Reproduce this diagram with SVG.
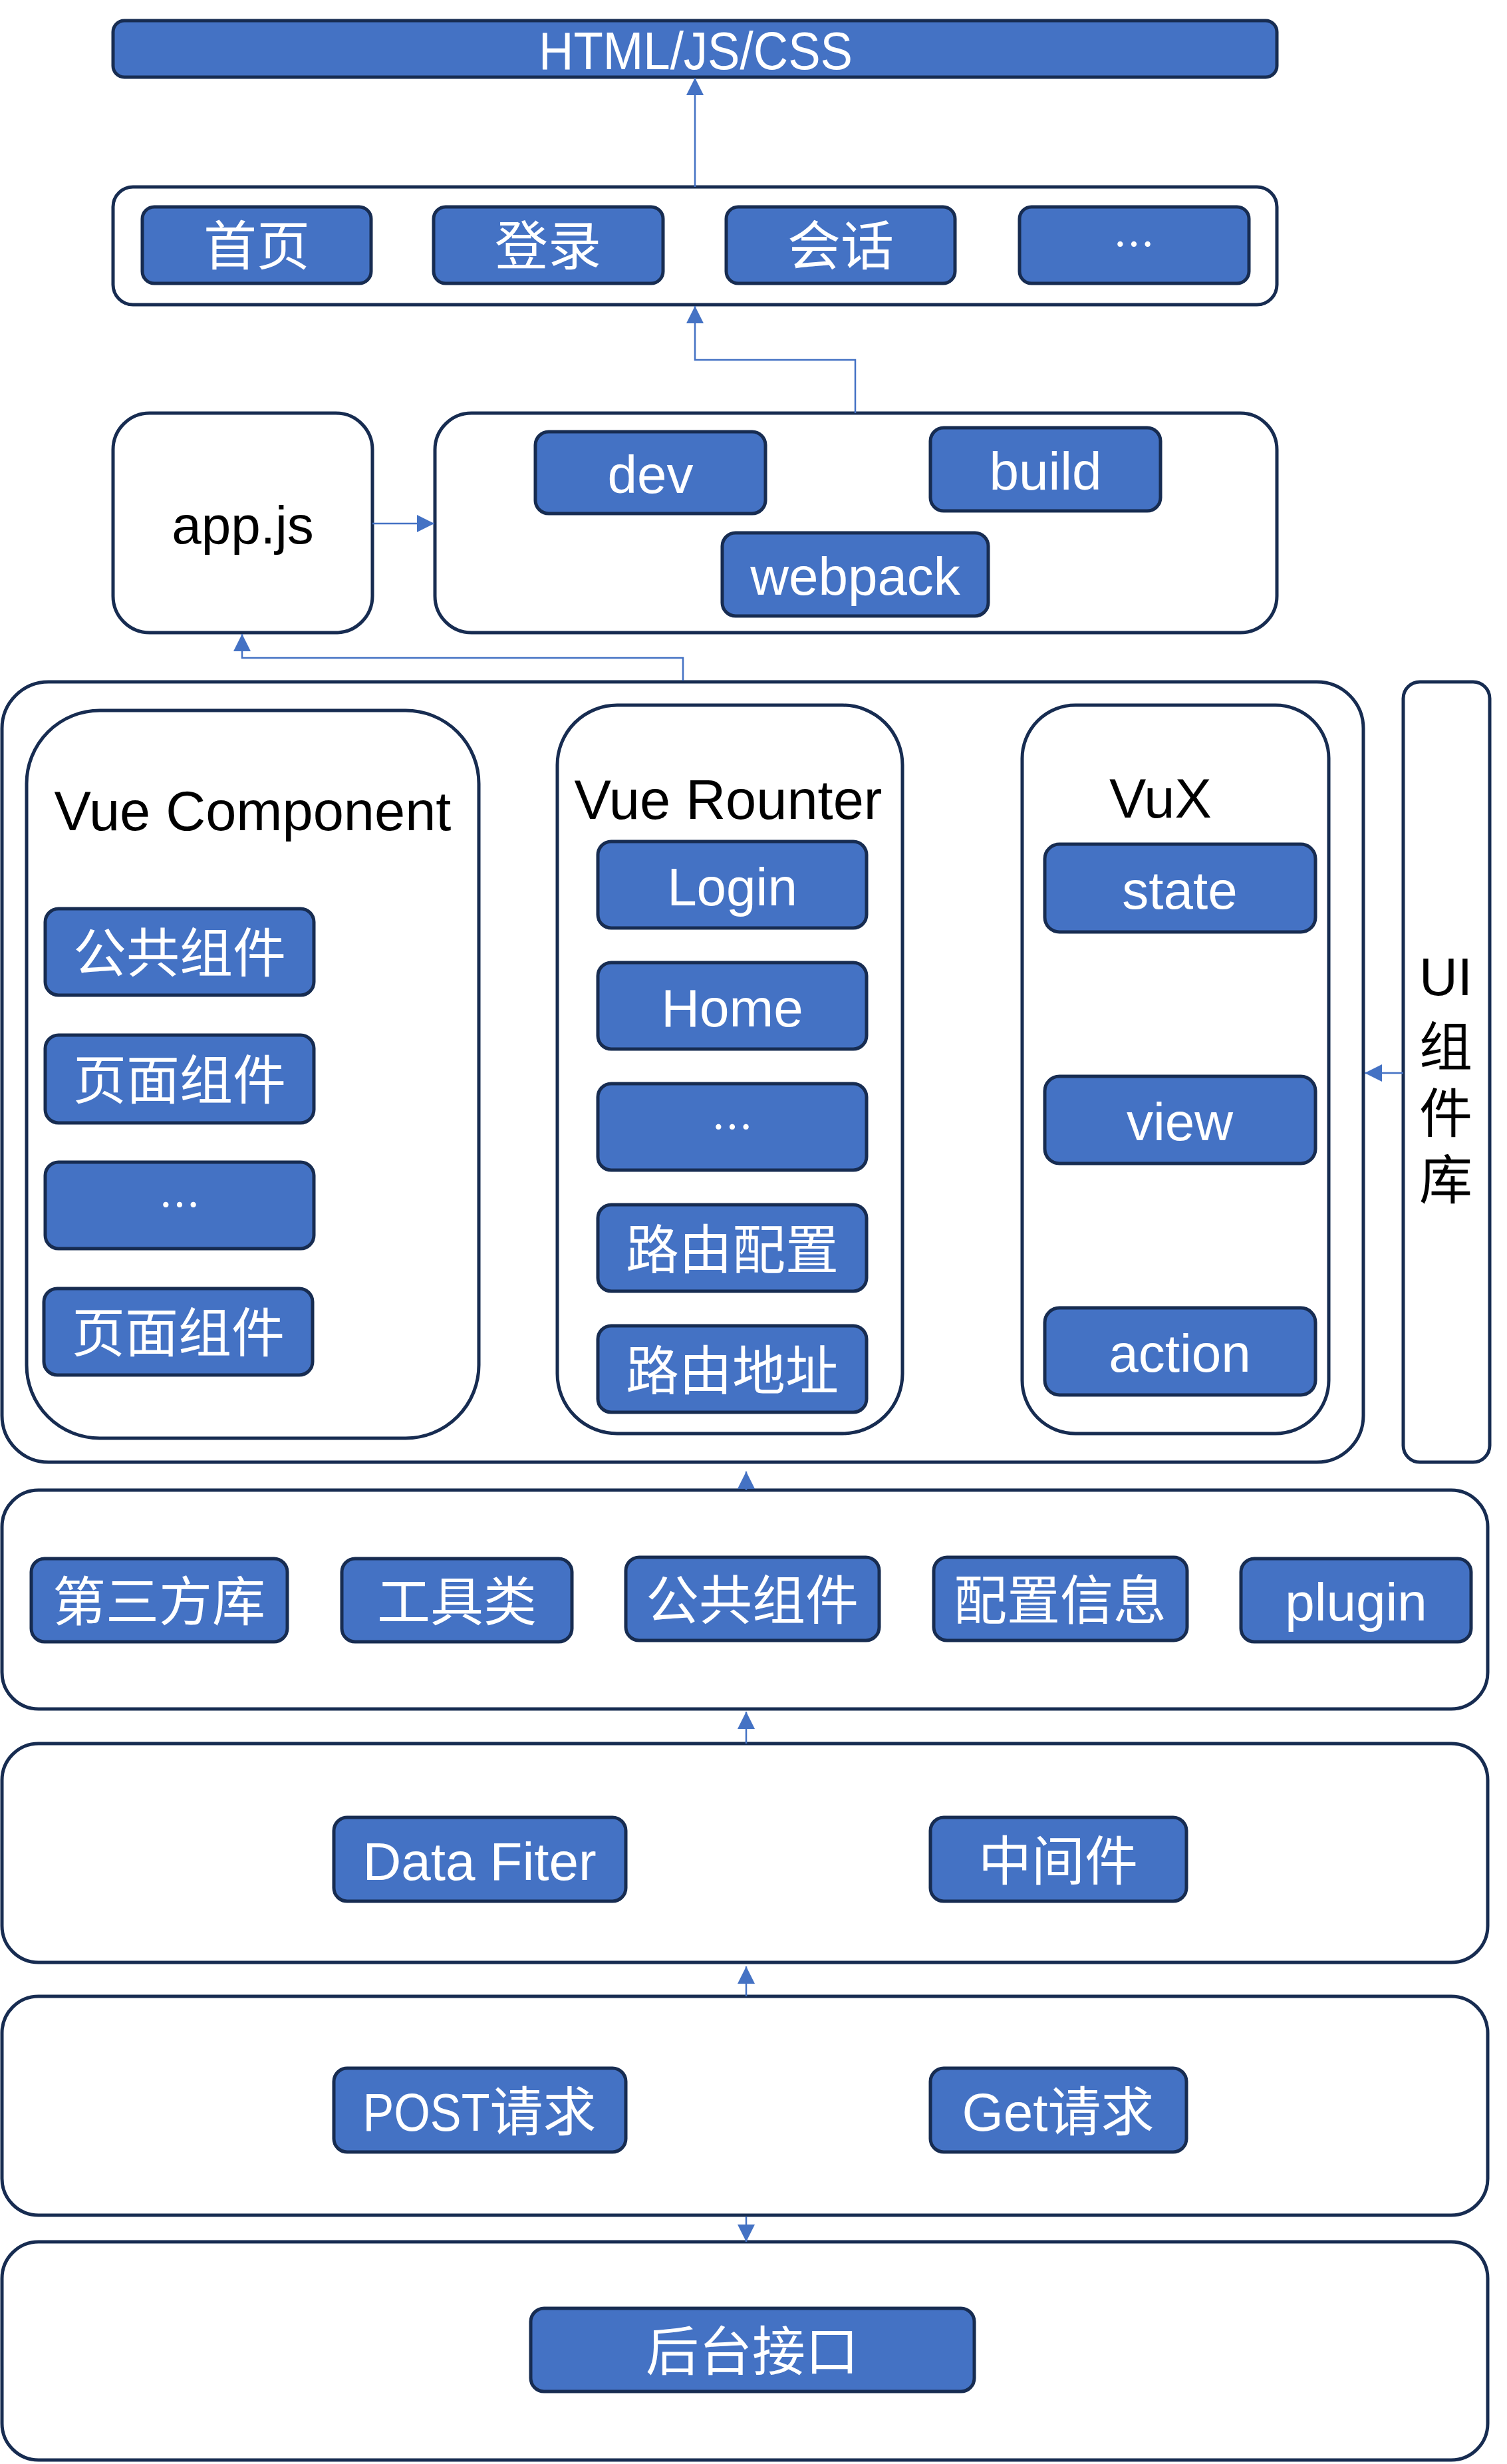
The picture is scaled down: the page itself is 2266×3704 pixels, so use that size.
<svg xmlns="http://www.w3.org/2000/svg" width="2266" height="3704" viewBox="0 0 2266 3704">
<style>
.bg{fill:#ffffff}
.box{fill:#4472C4;stroke:#172C51;stroke-width:5}
.cont{fill:#ffffff;stroke:#172C51;stroke-width:5}
.t{font-family:"Liberation Sans","Noto Sans CJK SC",sans-serif;font-size:80px;fill:#ffffff;text-anchor:middle}
.k{fill:#000000}
.title{font-size:83px}
.dots{font-family:"Noto Sans CJK SC","Liberation Sans",sans-serif;font-size:62px}
.conn{fill:none;stroke:#4472C4;stroke-width:2.5}
</style>
<defs>
<marker id="arr" viewBox="0 0 26 26" refX="26" refY="13" markerWidth="26" markerHeight="26" orient="auto" markerUnits="userSpaceOnUse">
<path d="M0,0 L26,13 L0,26 z" fill="#4472C4"/>
</marker>
</defs>
<rect class="bg" x="0" y="0" width="2266" height="3704"/>

<g id="html">
<rect class="box" x="170" y="31" width="1750" height="85" rx="17"/>
<text class="t" x="1046" y="104" textLength="472" lengthAdjust="spacingAndGlyphs">HTML/JS/CSS</text>
</g>

<g id="pages">
<rect class="cont" x="170" y="281" width="1750" height="177" rx="30"/>
<g id="page-home"><rect class="box" x="214" y="311" width="344" height="115" rx="18"/><text class="t" x="386" y="398">首页</text></g>
<g id="page-login"><rect class="box" x="652" y="311" width="345" height="115" rx="18"/><text class="t" x="824" y="398">登录</text></g>
<g id="page-session"><rect class="box" x="1092" y="311" width="344" height="115" rx="18"/><text class="t" x="1264" y="398">会话</text></g>
<g id="page-more"><rect class="box" x="1533" y="311" width="345" height="115" rx="18"/><text class="t dots" x="1705" y="391">…</text></g>
</g>

<g id="appjs">
<rect class="cont" x="170" y="621" width="390" height="330" rx="55"/>
<text class="t k" x="365" y="817">app.js</text>
</g>

<g id="webpack-group">
<rect class="cont" x="654" y="621" width="1266" height="330" rx="55"/>
<g id="dev"><rect class="box" x="805" y="649" width="346" height="123" rx="20"/><text class="t" x="978" y="741">dev</text></g>
<g id="build"><rect class="box" x="1399" y="643" width="346" height="125" rx="20"/><text class="t" x="1572" y="736">build</text></g>
<g id="webpack"><rect class="box" x="1086" y="801" width="400" height="125" rx="20"/><text class="t" x="1286" y="894">webpack</text></g>
</g>

<g id="vue-layer">
<rect class="cont" x="3" y="1025" width="2047" height="1173" rx="70"/>
</g>

<g id="vue-component">
<rect class="cont" x="40" y="1068" width="680" height="1094" rx="110"/>
<text class="t k title" x="380" y="1248">Vue Component</text>
<g id="vc-common"><rect class="box" x="68" y="1366" width="404" height="130" rx="20"/><text class="t" x="270" y="1461">公共组件</text></g>
<g id="vc-page1"><rect class="box" x="68" y="1556" width="404" height="132" rx="20"/><text class="t" x="270" y="1652">页面组件</text></g>
<g id="vc-more"><rect class="box" x="68" y="1747" width="404" height="130" rx="20"/><text class="t dots" x="270" y="1835">…</text></g>
<g id="vc-page2"><rect class="box" x="66" y="1937" width="404" height="130" rx="20"/><text class="t" x="268" y="2032">页面组件</text></g>
</g>

<g id="vue-router">
<rect class="cont" x="838" y="1060" width="519" height="1095" rx="90"/>
<text class="t k title" x="1095" y="1231">Vue Rounter</text>
<g id="vr-login"><rect class="box" x="899" y="1265" width="404" height="130" rx="20"/><text class="t" x="1101" y="1361">Login</text></g>
<g id="vr-home"><rect class="box" x="899" y="1447" width="404" height="130" rx="20"/><text class="t" x="1101" y="1543">Home</text></g>
<g id="vr-more"><rect class="box" x="899" y="1629" width="404" height="130" rx="20"/><text class="t dots" x="1101" y="1718">…</text></g>
<g id="vr-config"><rect class="box" x="899" y="1811" width="404" height="130" rx="20"/><text class="t" x="1101" y="1907">路由配置</text></g>
<g id="vr-address"><rect class="box" x="899" y="1993" width="404" height="130" rx="20"/><text class="t" x="1101" y="2089">路由地址</text></g>
</g>

<g id="vux">
<rect class="cont" x="1537" y="1060" width="461" height="1095" rx="80"/>
<text class="t k title" x="1745" y="1229">VuX</text>
<g id="vux-state"><rect class="box" x="1571" y="1269" width="407" height="132" rx="22"/><text class="t" x="1774" y="1366">state</text></g>
<g id="vux-view"><rect class="box" x="1571" y="1618" width="407" height="131" rx="22"/><text class="t" x="1774" y="1714">view</text></g>
<g id="vux-action"><rect class="box" x="1571" y="1966" width="407" height="131" rx="22"/><text class="t" x="1774" y="2062">action</text></g>
</g>

<g id="ui-lib">
<rect class="cont" x="2110" y="1025" width="130" height="1173" rx="25"/>
<text class="t k" x="2174" y="1496">UI</text>
<text class="t k" x="2174" y="1602">组</text>
<text class="t k" x="2174" y="1702">件</text>
<text class="t k" x="2174" y="1802">库</text>
</g>

<g id="common-layer">
<rect class="cont" x="3" y="2240" width="2234" height="329" rx="55"/>
<g id="third-party"><rect class="box" x="47" y="2343" width="385" height="125" rx="20"/><text class="t" x="239" y="2436">第三方库</text></g>
<g id="utils"><rect class="box" x="514" y="2343" width="346" height="125" rx="20"/><text class="t" x="687" y="2436">工具类</text></g>
<g id="common-comp"><rect class="box" x="941" y="2341" width="381" height="125" rx="20"/><text class="t" x="1131" y="2434">公共组件</text></g>
<g id="config-info"><rect class="box" x="1404" y="2341" width="381" height="125" rx="20"/><text class="t" x="1594" y="2434">配置信息</text></g>
<g id="plugin"><rect class="box" x="1866" y="2343" width="346" height="125" rx="20"/><text class="t" x="2039" y="2436">plugin</text></g>
</g>

<g id="filter-layer">
<rect class="cont" x="3" y="2621" width="2234" height="329" rx="55"/>
<g id="data-filter"><rect class="box" x="502" y="2732" width="439" height="126" rx="20"/><text class="t" x="721" y="2826">Data Fiter</text></g>
<g id="middleware"><rect class="box" x="1399" y="2732" width="385" height="126" rx="20"/><text class="t" x="1591" y="2826">中间件</text></g>
</g>

<g id="request-layer">
<rect class="cont" x="3" y="3001" width="2234" height="329" rx="55"/>
<g id="post"><rect class="box" x="502" y="3109" width="439" height="126" rx="20"/><text class="t" x="721" y="3203"><tspan textLength="191" lengthAdjust="spacingAndGlyphs">POST</tspan>请求</text></g>
<g id="get"><rect class="box" x="1399" y="3109" width="385" height="126" rx="20"/><text class="t" x="1591" y="3203">Get请求</text></g>
</g>

<g id="backend-layer">
<rect class="cont" x="3" y="3370" width="2234" height="328" rx="55"/>
<g id="backend"><rect class="box" x="798" y="3470" width="667" height="125" rx="20"/><text class="t" x="1131" y="3563">后台接口</text></g>
</g>

<g id="connectors">
<path class="conn" d="M1045,281 V117" marker-end="url(#arr)"/>
<path class="conn" d="M1286,621 V541 H1045 V460" marker-end="url(#arr)"/>
<path class="conn" d="M560,787 H653" marker-end="url(#arr)"/>
<path class="conn" d="M1027,1023 V989 H364 V953" marker-end="url(#arr)"/>
<path class="conn" d="M2110,1613 H2052" marker-end="url(#arr)"/>
<path class="conn" d="M1122,2240 V2212" marker-end="url(#arr)"/>
<path class="conn" d="M1122,2621 V2573" marker-end="url(#arr)"/>
<path class="conn" d="M1122,3001 V2956" marker-end="url(#arr)"/>
<path class="conn" d="M1122,3332 V3370" marker-end="url(#arr)"/>
</g>
</svg>
